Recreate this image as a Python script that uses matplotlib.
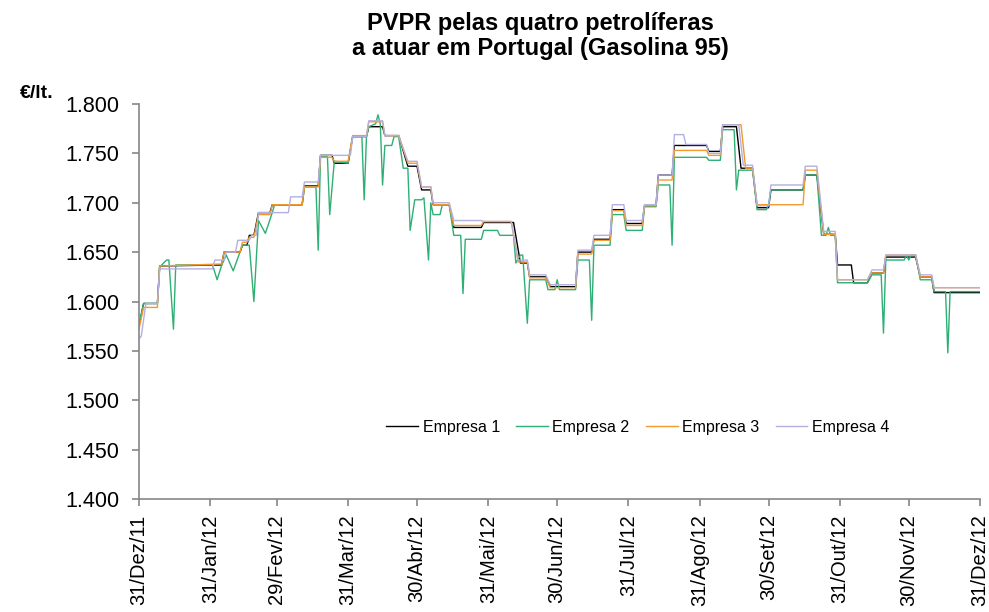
import numpy as np
import matplotlib
matplotlib.use("Agg")
import matplotlib.pyplot as plt

# days counted from 31/Dez/2011, prices in EUR per litre (vertices)
e1_day = [0, 2, 8, 9, 36, 37, 44, 45, 47, 48, 50, 52, 57, 58, 71, 72, 78, 79, 84, 85,
          91, 93, 99, 100, 106, 107, 113, 117, 121, 123, 127, 128, 135, 137, 149, 150,
          163, 166, 169, 170, 177, 179, 190, 191, 197, 198, 205, 206, 211, 212, 219,
          220, 225, 226, 232, 233, 247, 248, 253, 254, 260, 262, 267, 269, 274, 275,
          289, 290, 295, 298, 303, 304, 310, 311, 317, 319, 324, 325, 338, 340, 345,
          346, 366]
e1_val = [1.575, 1.598, 1.598, 1.636, 1.637, 1.650, 1.650, 1.657, 1.657, 1.667, 1.667,
          1.690, 1.690, 1.698, 1.698, 1.717, 1.717, 1.748, 1.748, 1.740, 1.740, 1.767,
          1.767, 1.777, 1.777, 1.768, 1.768, 1.737, 1.737, 1.713, 1.713, 1.698, 1.698,
          1.675, 1.675, 1.680, 1.680, 1.639, 1.639, 1.625, 1.625, 1.615, 1.615, 1.650,
          1.650, 1.663, 1.663, 1.693, 1.693, 1.679, 1.679, 1.697, 1.697, 1.728, 1.728,
          1.758, 1.758, 1.752, 1.752, 1.777, 1.777, 1.735, 1.735, 1.695, 1.695, 1.713,
          1.713, 1.728, 1.728, 1.668, 1.668, 1.637, 1.637, 1.619, 1.619, 1.629, 1.629,
          1.645, 1.645, 1.625, 1.625, 1.609, 1.609]

e2_day = [0, 2, 8, 9, 12, 13, 15, 16, 32, 34, 36, 38, 41, 45, 48, 50, 52, 55, 58, 59,
          71, 72, 77, 78, 79, 82, 83, 85, 91, 93, 97, 98, 99, 100, 103, 104, 105, 106,
          107, 110, 111, 113, 115, 117, 118, 120, 123, 124, 126, 127, 128, 131, 132,
          135, 137, 140, 141, 142, 149, 150, 156, 157, 163, 164, 166, 167, 169, 170,
          177, 178, 181, 182, 183, 190, 191, 196, 197, 198, 205, 206, 211, 212, 219,
          220, 225, 226, 231, 232, 233, 247, 248, 253, 254, 259, 260, 261, 267, 269,
          273, 274, 275, 289, 290, 295, 297, 299, 300, 301, 303, 304, 317, 319, 323,
          324, 325, 333, 334, 335, 336, 338, 340, 345, 346, 351, 352, 353, 366]
e2_val = [1.577, 1.598, 1.598, 1.635, 1.642, 1.642, 1.572, 1.637, 1.637, 1.622, 1.637,
          1.647, 1.631, 1.657, 1.657, 1.600, 1.682, 1.669, 1.690, 1.698, 1.698, 1.716,
          1.716, 1.652, 1.747, 1.747, 1.688, 1.742, 1.740, 1.767, 1.767, 1.703, 1.767,
          1.777, 1.780, 1.789, 1.780, 1.718, 1.758, 1.758, 1.767, 1.767, 1.735, 1.735,
          1.672, 1.703, 1.703, 1.705, 1.642, 1.700, 1.688, 1.688, 1.698, 1.698, 1.667,
          1.667, 1.608, 1.663, 1.663, 1.672, 1.672, 1.667, 1.667, 1.639, 1.647, 1.647,
          1.578, 1.622, 1.622, 1.612, 1.612, 1.622, 1.612, 1.612, 1.642, 1.642, 1.581,
          1.657, 1.657, 1.688, 1.688, 1.672, 1.672, 1.696, 1.696, 1.718, 1.718, 1.657,
          1.746, 1.746, 1.743, 1.743, 1.774, 1.774, 1.713, 1.733, 1.733, 1.693, 1.693,
          1.698, 1.713, 1.713, 1.728, 1.728, 1.667, 1.667, 1.675, 1.667, 1.667, 1.619,
          1.619, 1.627, 1.627, 1.568, 1.642, 1.642, 1.647, 1.642, 1.647, 1.647, 1.622,
          1.622, 1.610, 1.610, 1.548, 1.610, 1.610]

e3_day = [0, 2, 8, 9, 36, 37, 44, 45, 47, 48, 50, 52, 57, 58, 71, 72, 78, 79, 84, 85,
          91, 93, 99, 100, 106, 107, 113, 117, 121, 123, 127, 128, 135, 137, 149, 150,
          162, 165, 169, 170, 177, 179, 190, 191, 197, 198, 205, 206, 211, 212, 219,
          220, 225, 226, 232, 233, 247, 248, 253, 254, 262, 264, 267, 269, 289, 290,
          295, 298, 303, 304, 317, 319, 324, 325, 338, 340, 345, 346, 366]
e3_val = [1.572, 1.594, 1.594, 1.636, 1.638, 1.650, 1.650, 1.660, 1.660, 1.665, 1.665,
          1.688, 1.688, 1.698, 1.698, 1.716, 1.716, 1.746, 1.746, 1.742, 1.742, 1.768,
          1.768, 1.782, 1.782, 1.768, 1.768, 1.740, 1.740, 1.716, 1.716, 1.698, 1.698,
          1.677, 1.677, 1.681, 1.681, 1.640, 1.640, 1.624, 1.624, 1.614, 1.614, 1.648,
          1.648, 1.662, 1.662, 1.692, 1.692, 1.677, 1.677, 1.697, 1.697, 1.723, 1.723,
          1.753, 1.753, 1.748, 1.748, 1.779, 1.779, 1.735, 1.735, 1.698, 1.698, 1.733,
          1.733, 1.668, 1.668, 1.622, 1.622, 1.629, 1.629, 1.647, 1.647, 1.625, 1.625,
          1.614, 1.614]

e4_day = [0, 1, 3, 8, 9, 32, 33, 37, 38, 42, 43, 48, 49, 51, 52, 65, 66, 71, 72, 78,
          79, 92, 93, 99, 100, 106, 107, 113, 117, 121, 123, 127, 128, 135, 137, 149,
          150, 162, 165, 169, 170, 177, 179, 190, 191, 197, 198, 205, 206, 211, 212,
          219, 220, 225, 226, 232, 233, 237, 238, 247, 248, 253, 254, 261, 263, 267,
          269, 274, 275, 289, 290, 295, 298, 303, 304, 317, 319, 324, 325, 338, 340,
          345, 346, 366]
e4_val = [1.562, 1.565, 1.598, 1.598, 1.633, 1.633, 1.642, 1.642, 1.650, 1.650, 1.662,
          1.662, 1.667, 1.667, 1.690, 1.690, 1.706, 1.706, 1.721, 1.721, 1.748, 1.748,
          1.767, 1.767, 1.783, 1.783, 1.768, 1.768, 1.742, 1.742, 1.716, 1.716, 1.700,
          1.700, 1.682, 1.682, 1.681, 1.681, 1.642, 1.642, 1.627, 1.627, 1.617, 1.617,
          1.652, 1.652, 1.667, 1.667, 1.698, 1.698, 1.682, 1.682, 1.698, 1.698, 1.728,
          1.728, 1.769, 1.769, 1.759, 1.759, 1.750, 1.750, 1.779, 1.779, 1.738, 1.738,
          1.697, 1.697, 1.718, 1.718, 1.737, 1.737, 1.671, 1.671, 1.622, 1.622, 1.632,
          1.632, 1.647, 1.647, 1.627, 1.627, 1.614, 1.614]

tick_dates = ["2011-12-31", "2012-01-31", "2012-02-29", "2012-03-31", "2012-04-30",
              "2012-05-31", "2012-06-30", "2012-07-31", "2012-08-31", "2012-09-30",
              "2012-10-31", "2012-11-30", "2012-12-31"]
tick_labels = ["31/Dez/11", "31/Jan/12", "29/Fev/12", "31/Mar/12", "30/Abr/12",
               "31/Mai/12", "30/Jun/12", "31/Jul/12", "31/Ago/12", "30/Set/12",
               "31/Out/12", "30/Nov/12", "31/Dez/12"]
y_ticks = [1.400, 1.450, 1.500, 1.550, 1.600, 1.650, 1.700, 1.750, 1.800]

plt.rcParams["font.family"] = ["Liberation Sans", "DejaVu Sans"]

start = np.datetime64("2011-12-31")
def to_dates(days):
    return start + np.array(days, dtype="timedelta64[D]")

fig = plt.figure(figsize=(9.89, 6.12), dpi=100)
ax = fig.add_axes([139 / 989, 1 - 499 / 612, 841 / 989, 395 / 612])

ax.plot(to_dates(e1_day), e1_val, c="#000000", lw=1.0, label="Empresa 1")
ax.plot(to_dates(e2_day), e2_val, c="#2EAF74", lw=1.0, label="Empresa 2")
ax.plot(to_dates(e3_day), e3_val, c="#F39A2E", lw=1.0, label="Empresa 3")
ax.plot(to_dates(e4_day), e4_val, c="#B3B0E0", lw=1.0, label="Empresa 4")

ax.set_xlim(np.datetime64(tick_dates[0]), np.datetime64(tick_dates[-1]))
ax.set_ylim(1.4, 1.8)
ax.set_xticks(np.array(tick_dates, dtype="datetime64[D]"))
ax.set_xticklabels(tick_labels, rotation=90, fontsize=14.5)
ax.set_yticks(y_ticks)
ax.set_yticklabels(["%.3f" % v for v in y_ticks], fontsize=15.5)

for s in ["top", "right"]:
    ax.spines[s].set_visible(False)
for s in ["left", "bottom"]:
    ax.spines[s].set_color("#868686")
    ax.spines[s].set_linewidth(1.2)
ax.tick_params(axis="both", direction="out", length=5, width=1.2, color="#868686",
               labelcolor="black")
ax.tick_params(axis="y", pad=9)
ax.tick_params(axis="x", pad=6)

ax.legend(loc="center", bbox_to_anchor=(0.593, 0.182), ncol=4, frameon=False,
          fontsize=11.5, handlelength=2.0, handletextpad=0.3, columnspacing=1.0)

fig.text(0.546, 1 - 36 / 612, "PVPR pelas quatro petrolíferas\na atuar em Portugal (Gasolina 95)",
         ha="center", va="center", fontsize=17, fontweight="bold", linespacing=1.15)
fig.text(20 / 989, 1 - 93 / 612, "€/lt.", ha="left", va="center", fontsize=14,
         fontweight="bold")

fig.savefig("out.png", dpi=100)
